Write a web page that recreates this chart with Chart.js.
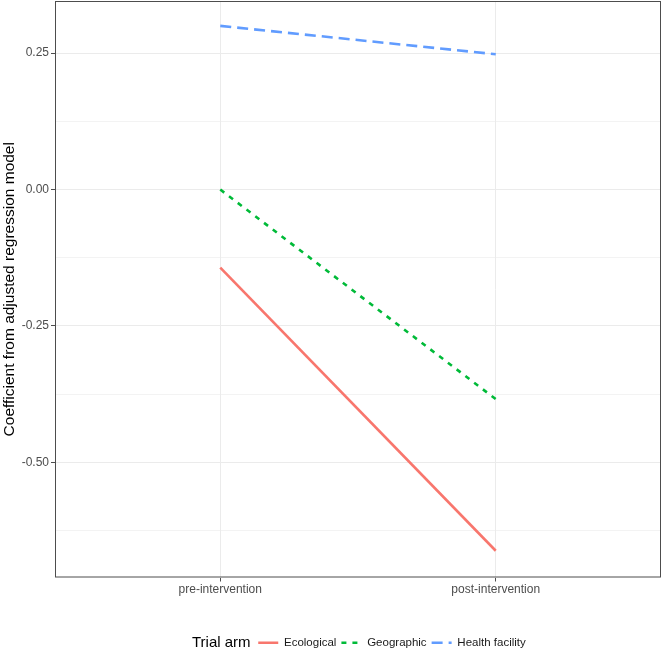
<!DOCTYPE html>
<html lang="en">
<head>
  <meta charset="UTF-8">
  <title>Coefficient by trial arm</title>
  <script src="https://cdn.jsdelivr.net/npm/chart.js"></script>
  <style>
    body { margin: 0; background: #fff; }
  </style>
</head>
<body>
  <canvas id="coefChart" width="664" height="651"></canvas>

  <script>
    // categories on the x axis (positions 1 and 2)
    const periods = ['pre-intervention', 'post-intervention'];
    const arms = ['Ecological', 'Geographic', 'Health facility'];

    // coefficients
    const ecological = [-0.143, -0.662];
    const geographic = [0.0, -0.384];
    const healthFacility = [0.300, 0.248];

    const yMajorTicks = [-0.5, -0.25, 0, 0.25];
    const yMinorTicks = [-0.625, -0.375, -0.125, 0.125];

    const FONT = "'Liberation Sans', Arial, sans-serif";
    const colors = ['#F8766D', '#00BA38', '#619CFF'];
    const dashes = [[], [5, 6], [11, 6]];
    const series = [ecological, geographic, healthFacility];

    const toPoints = vals => vals.map((v, i) => ({ x: i + 1, y: v }));
    const isMajor = v => yMajorTicks.some(t => Math.abs(t - v) < 1e-9);

    // panel border, inline legend title, legend nudged to the ggplot spot
    const ggExtras = {
      id: 'ggExtras',
      afterLayout(chart) {
        const lg = chart.legend;
        const dx = 392 - (lg.left + lg.right) / 2;
        lg.left += dx; lg.right += dx;
        const dy = 643 - (lg.top + lg.options.labels.padding + 6);
        lg.top += dy; lg.bottom += dy;
      },
      afterDraw(chart) {
        const { ctx, chartArea: a } = chart;
        ctx.save();
        ctx.strokeStyle = '#4d4d4d';
        ctx.lineWidth = 1;
        ctx.strokeRect(a.left + 0.5, a.top + 0.5, a.right - a.left - 1, a.bottom - a.top - 1);
        ctx.fillStyle = '#000';
        ctx.font = '15px ' + FONT;
        ctx.textAlign = 'left';
        ctx.textBaseline = 'middle';
        ctx.fillText('Trial arm', 192, 643);
        ctx.restore();
      }
    };

    new Chart(document.getElementById('coefChart').getContext('2d'), {
      type: 'line',
      data: {
        datasets: arms.map((name, i) => ({
          label: name,
          data: toPoints(series[i]),
          borderColor: colors[i],
          backgroundColor: colors[i],
          borderWidth: 2.6,
          borderDash: dashes[i],
          pointRadius: 0,
          pointStyle: 'line',
          fill: false,
          tension: 0
        }))
      },
      options: {
        responsive: false,
        animation: false,
        layout: { padding: { top: 1, right: 3, left: 0, bottom: 0 } },
        plugins: {
          tooltip: { enabled: false },
          legend: {
            position: 'bottom',
            labels: {
              usePointStyle: true,
              pointStyle: 'line',
              pointStyleWidth: 20,
              padding: 5,
              color: '#1a1a1a',
              font: { family: FONT, size: 11.5 },
              generateLabels: chart =>
                Chart.defaults.plugins.legend.labels.generateLabels(chart).map((item, i) => ({
                  ...item,
                  lineDash: dashes[i],
                  lineWidth: 2.6,
                  strokeStyle: colors[i]
                }))
            }
          }
        },
        scales: {
          x: {
            type: 'linear',
            min: 0.4,
            max: 2.6,
            afterBuildTicks: s => { s.ticks = periods.map((p, i) => ({ value: i + 1 })); },
            afterFit: s => { s.height = 47; s.paddingLeft = 0; s.paddingRight = 0; },
            ticks: {
              callback: v => periods[v - 1] || '',
              color: '#4d4d4d',
              font: { family: FONT, size: 12 },
              padding: 1,
              maxRotation: 0
            },
            grid: { color: '#ebebeb', lineWidth: 1, tickLength: 4, tickColor: '#4d4d4d' },
            border: { display: false }
          },
          y: {
            type: 'linear',
            min: -0.711,
            max: 0.3456,
            afterBuildTicks: s => {
              s.ticks = yMajorTicks.concat(yMinorTicks).sort((a, b) => a - b).map(v => ({ value: v }));
            },
            afterFit: s => { s.width = 55; s.paddingTop = 0; s.paddingBottom = 0; },
            ticks: {
              callback: v => isMajor(v) ? v.toFixed(2) : '',
              color: '#4d4d4d',
              font: { family: FONT, size: 12 },
              padding: 2
            },
            grid: {
              color: '#ebebeb',
              lineWidth: c => isMajor(c.tick.value) ? 1 : 0.6,
              tickLength: 4,
              tickColor: c => isMajor(c.tick.value) ? '#4d4d4d' : 'rgba(0,0,0,0)'
            },
            border: { display: false },
            title: {
              display: true,
              text: 'Coefficient from adjusted regression model',
              color: '#000',
              font: { family: FONT, size: 15.5 },
              padding: 0
            }
          }
        }
      },
      plugins: [ggExtras]
    });
  </script>
</body>
</html>
